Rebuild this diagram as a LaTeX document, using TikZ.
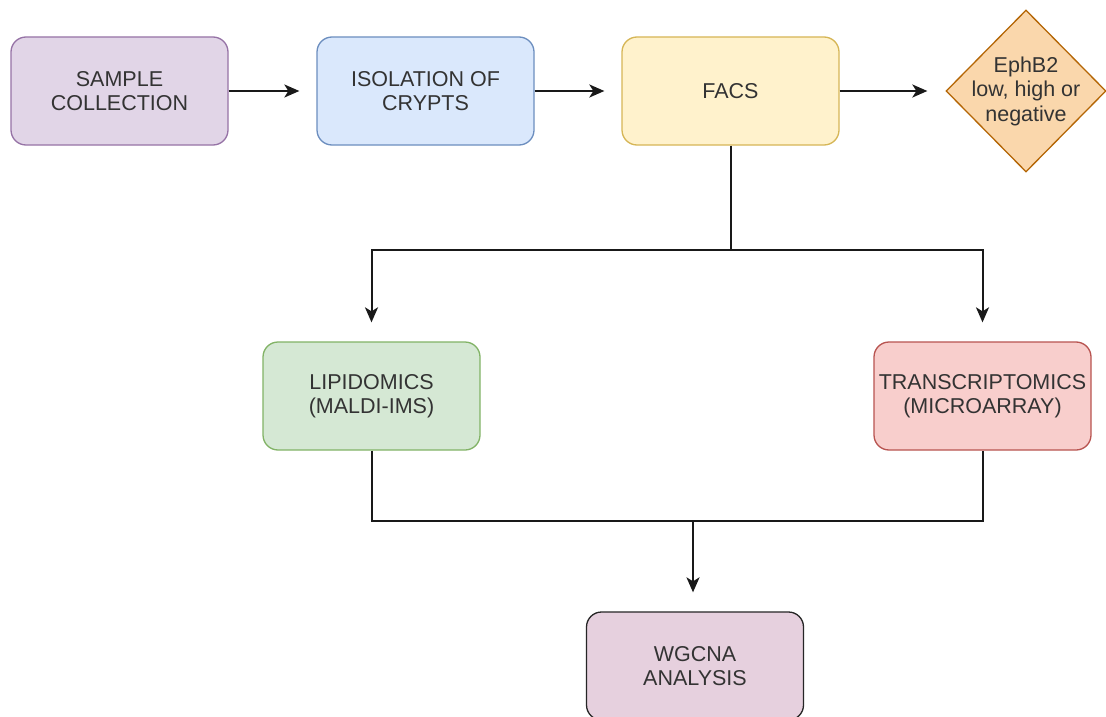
\documentclass[tikz,border=0pt]{standalone}
\usepackage{fontspec}
\setmainfont{Liberation Sans}
\usetikzlibrary{arrows.meta,shapes.geometric}
\definecolor{txt}{HTML}{333333}
\definecolor{purF}{HTML}{E1D5E7}\definecolor{purD}{HTML}{9673A6}
\definecolor{bluF}{HTML}{DAE8FC}\definecolor{bluD}{HTML}{6C8EBF}
\definecolor{yelF}{HTML}{FFF2CC}\definecolor{yelD}{HTML}{D6B656}
\definecolor{oraF}{HTML}{FAD7AC}\definecolor{oraD}{HTML}{B46504}
\definecolor{greF}{HTML}{D5E8D4}\definecolor{greD}{HTML}{82B366}
\definecolor{redF}{HTML}{F8CECC}\definecolor{redD}{HTML}{B85450}
\definecolor{pinF}{HTML}{E6D0DE}\definecolor{pinD}{HTML}{262626}
\tikzset{
  lbl/.style={align=center, text=txt, font=\fontsize{21.5pt}{24.5pt}\selectfont, inner sep=0pt},
  box/.style={lbl, draw, rounded corners=15pt, line width=1.3pt, minimum width=217pt, minimum height=108pt},
  conn/.style={line width=2pt, black!90},
  arr/.style={conn, -{Stealth[length=15pt,width=13pt,inset=4pt]}},
}
\begin{document}
\begin{tikzpicture}[x=1pt,y=-1pt]
\useasboundingbox (0,0) rectangle (1106,717);
\fill[white] (0,0) rectangle (1106,717);
\node[box, fill=purF, draw=purD] (sample) at (119.5,91) {SAMPLE\\COLLECTION};
\node[box, fill=bluF, draw=bluD] (iso) at (425.5,91) {ISOLATION OF\\CRYPTS};
\node[box, fill=yelF, draw=yelD] (facs) at (730.5,91) {FACS};
\node[draw=oraD, fill=oraF, line width=1.3pt, diamond, aspect=1, minimum width=160pt, minimum height=162pt, inner sep=0pt] (eph) at (1026,91) {};
\node[lbl] (ephT) at (eph.center) {EphB2\\low, high or\\negative};
\node[box, fill=greF, draw=greD] (lip) at (371.5,396) {LIPIDOMICS\\(MALDI-IMS)};
\node[box, fill=redF, draw=redD] (tra) at (982.5,396) {TRANSCRIPTOMICS\\(MICROARRAY)};
\node[box, fill=pinF, draw=pinD] (wg) at (695,666) {WGCNA\\ANALYSIS};
\coordinate (j1) at (730.5,250);
\coordinate (j2) at (693,521);
\draw[arr, shorten >=17pt] (sample.east) -- (iso.west);
\draw[arr, shorten >=17pt] (iso.east) -- (facs.west);
\draw[arr, shorten >=18pt] (facs.east) -- (eph.west);
\draw[conn] (facs.south) -- (j1);
\draw[arr, shorten >=19pt] (j1) -| (lip.north);
\draw[arr, shorten >=19pt] (j1) -| (tra.north);
\draw[conn] (lip.south) -- (lip.south |- j2) -- (tra.south |- j2) -- (tra.south);
\draw[arr, shorten >=19pt] (j2) -- (j2 |- wg.north);
\end{tikzpicture}
\end{document}
